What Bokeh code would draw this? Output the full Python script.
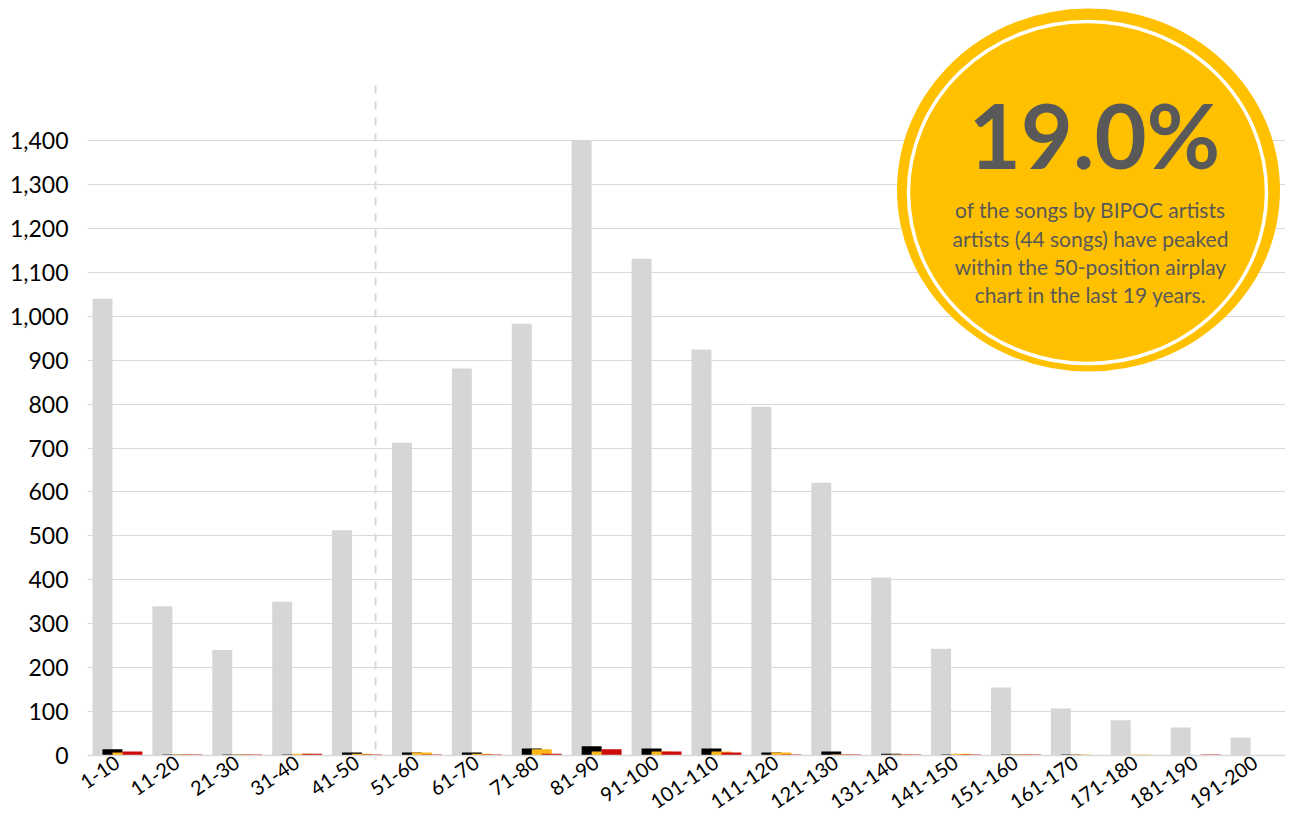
from bokeh.plotting import figure
from bokeh.models import ColumnDataSource, FactorRange, Range1d, FixedTicker, NumeralTickFormatter, Span
from bokeh.transform import dodge
from bokeh.core.properties import value
from bokeh.embed import file_html
from bokeh.resources import INLINE

categories = ["1-10", "11-20", "21-30", "31-40", "41-50", "51-60", "61-70", "71-80", "81-90", "91-100",
              "101-110", "111-120", "121-130", "131-140", "141-150", "151-160", "161-170", "171-180",
              "181-190", "191-200"]
all_songs = [1040, 340, 240, 350, 513, 712, 881, 983, 1400, 1131, 924, 794, 621, 405, 243, 155, 107, 80, 64, 41]
series_black = [14, 2, 2, 2, 7, 7, 7, 16, 21, 16, 16, 7, 9, 4, 2, 2, 2, 0, 0, 0]
series_yellow = [7, 2, 2, 4, 4, 7, 4, 14, 9, 9, 9, 7, 2, 2, 4, 2, 2, 2, 0, 0]
series_red = [9, 2, 2, 4, 2, 2, 2, 4, 14, 9, 7, 2, 2, 2, 2, 2, 0, 0, 2, 0]
y_ticks = [0, 100, 200, 300, 400, 500, 600, 700, 800, 900, 1000, 1100, 1200, 1300, 1400]

big_text = "19.0%"
body_lines = ["of the songs by BIPOC artists",
              "artists (44 songs) have peaked",
              "within the 50-position airplay",
              "chart in the last 19 years."]

W, H = 1285, 823
LEFT = 87                 # frame left edge (px)
FRAME_BOTTOM = 759        # frame bottom edge (px)
ZERO_PX = 755             # pixel row of y = 0
PXU = 615 / 1400          # pixels per unit
FONT = "Lato"
TXT = "#595959"
cat_w = (W - LEFT) / len(categories)

def rx(px):
    return (px - LEFT) / cat_w

def ry(py):
    return (ZERO_PX - py) / PXU

src = ColumnDataSource(dict(cat=categories, total=all_songs, black=series_black,
                            yellow=series_yellow, red=series_red))

p = figure(width=W, height=H, x_range=FactorRange(*categories, range_padding=0),
           y_range=Range1d(ry(FRAME_BOTTOM), ry(0)), output_backend="svg", toolbar_location=None,
           min_border_left=LEFT, min_border_right=0, min_border_top=0,
           min_border_bottom=H - FRAME_BOTTOM)
p.outline_line_color = None
p.background_fill_color = "white"

p.yaxis.ticker = FixedTicker(ticks=y_ticks)
p.yaxis.formatter = NumeralTickFormatter(format="0,0")
p.yaxis.axis_line_color = None
p.yaxis.major_tick_line_color = None
p.yaxis.minor_tick_line_color = None
p.yaxis.major_label_standoff = 13
p.yaxis.major_label_text_font = FONT
p.yaxis.major_label_text_font_size = "23px"
p.yaxis.major_label_text_color = "black"

p.xaxis.axis_line_color = None
p.xaxis.major_tick_line_color = None
p.xaxis.minor_tick_line_color = None
p.xaxis.major_tick_out = 0
p.xaxis.major_tick_in = 0
p.xaxis.major_label_orientation = 0.6
p.xaxis.major_label_standoff = 1
p.xaxis.major_label_text_font = FONT
p.xaxis.major_label_text_font_size = "20px"
p.xaxis.major_label_text_color = "black"

p.xgrid.grid_line_color = None
p.ygrid.grid_line_color = "#D9D9D9"
p.ygrid.grid_line_width = 1

# dashed divider after top-50
p.segment(x0=[rx(375)], y0=[ry(765)], x1=[rx(375)], y1=[ry(83)], line_color="#D9D9D9",
          line_width=2, line_dash="8 8")

bw = 1 / 3
p.vbar(x=dodge("cat", -0.25, range=p.x_range), top="total", width=bw, source=src,
       fill_color="#D6D6D6", line_color=None)
p.vbar(x=dodge("cat", -1 / 12, range=p.x_range), top="black", width=bw, source=src,
       fill_color="#000000", line_color=None)
p.vbar(x=dodge("cat", 1 / 12, range=p.x_range), top="yellow", width=bw, source=src,
       fill_color="#FDB71A", line_color=None)
p.vbar(x=dodge("cat", 0.25, range=p.x_range), top="red", width=bw, source=src,
       fill_color="#CC0A0A", line_color=None)

# category axis line at zero
p.add_layout(Span(location=0, dimension="width", line_color="#D9D9D9", line_width=1.5))

# callout circle
p.ellipse(x=[rx(1088)], y=[ry(189.5)], width=383, height=363, width_units="screen",
          height_units="screen", fill_color="#FFC000", line_color=None)
p.ellipse(x=[rx(1087)], y=[ry(192)], width=358, height=342, width_units="screen",
          height_units="screen", fill_color=None, line_color="white", line_width=3.5)

BIG, BODY = 90, 21
p.text(x=[rx(1094)], y=[ry(168 - 0.38 * BIG)], text=[big_text], text_font=value(FONT),
       text_font_style="bold", text_font_size=f"{BIG}px", text_color=TXT,
       text_align="center", text_baseline="alphabetic")
p.text(x=[rx(1090)] * 4, y=[ry(b - 0.38 * BODY) for b in (217, 245.5, 273.5, 302)], text=body_lines,
       text_font=value(FONT), text_font_size=f"{BODY}px", text_color=TXT, text_align="center",
       text_baseline="alphabetic")

open("out.html", "w").write(file_html(p, INLINE))
